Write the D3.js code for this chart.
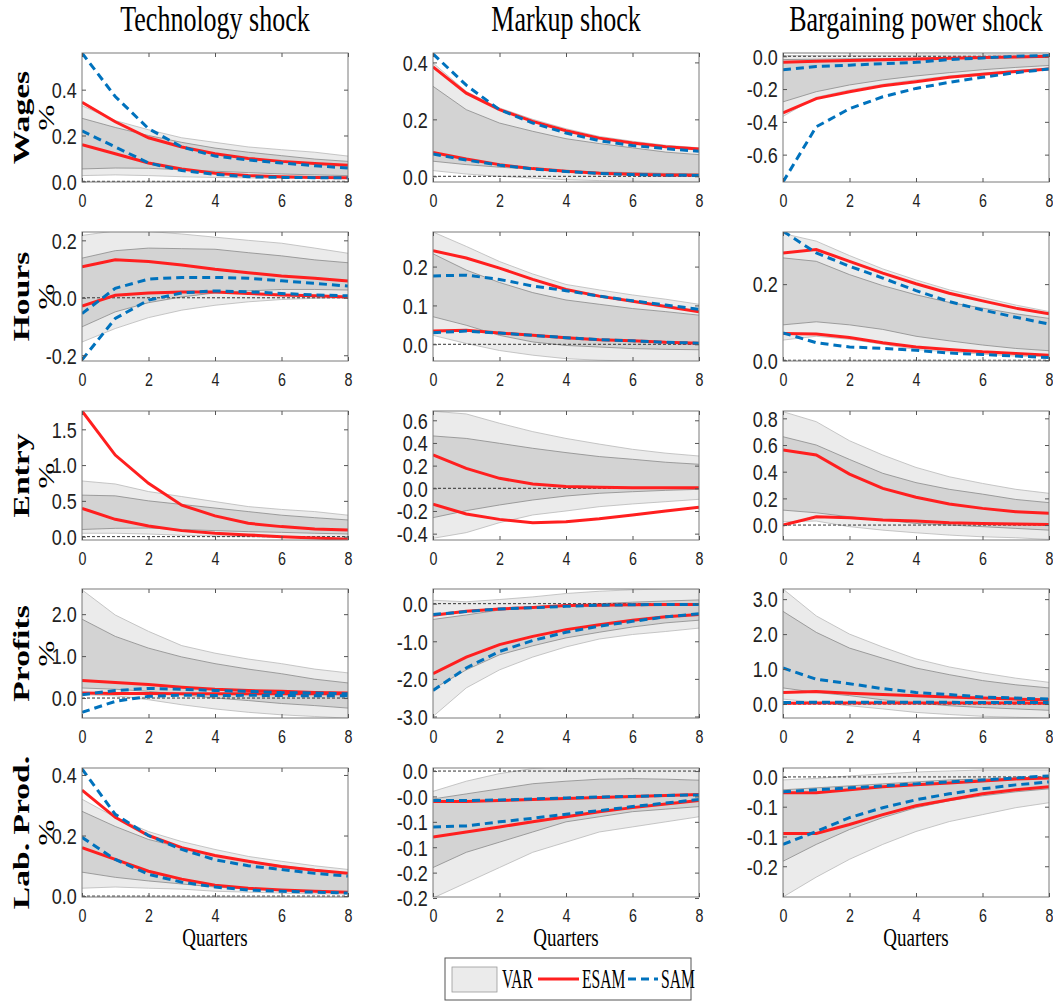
<!DOCTYPE html>
<html>
<head>
<meta charset="utf-8">
<script src="https://cdn.jsdelivr.net/npm/d3@7"></script>
<style>
  body { margin: 0; background: #fff; }
</style>
</head>
<body>
<div id="chart"></div>
<script>
// ---- data ----
const quarters = d3.range(0, 9);
const shocks = ['Technology shock', 'Markup shock', 'Bargaining power shock'];
const variables = ['Wages', 'Hours', 'Entry', 'Profits', 'Lab. Prod.'];
const legendLabels = ['VAR', 'ESAM', 'SAM'];
const xTicks = [0, 2, 4, 6, 8];

// VAR bands (outer / inner), ESAM and SAM responses (hi / lo) per panel
const wagesTech = {
  outerHi: [0.33, 0.265, 0.225, 0.19, 0.17, 0.15, 0.138, 0.127, 0.11],
  innerHi: [0.275, 0.235, 0.2, 0.17, 0.145, 0.127, 0.112, 0.097, 0.087],
  innerLo: [0.054, 0.058, 0.057, 0.05, 0.044, 0.038, 0.032, 0.028, 0.025],
  outerLo: [0.025, 0.028, 0.025, 0.02, 0.017, 0.015, 0.013, 0.013, 0.013],
  esamHi: [0.345, 0.26, 0.19, 0.15, 0.12, 0.1, 0.087, 0.078, 0.07],
  esamLo: [0.16, 0.12, 0.08, 0.054, 0.035, 0.025, 0.02, 0.017, 0.016],
  samHi: [0.56, 0.37, 0.23, 0.15, 0.11, 0.093, 0.08, 0.068, 0.058],
  samLo: [0.22, 0.15, 0.08, 0.047, 0.03, 0.02, 0.017, 0.016, 0.015]
};
const wagesMarkup = {
  outerHi: [0.398, 0.298, 0.24, 0.2, 0.167, 0.14, 0.123, 0.109, 0.1],
  innerHi: [0.316, 0.234, 0.187, 0.158, 0.132, 0.115, 0.1, 0.085, 0.076],
  innerLo: [0.053, 0.041, 0.032, 0.025, 0.02, 0.015, 0.013, 0.01, 0.009],
  outerLo: [0.02, 0.008, 0, -0.006, -0.012, -0.015, -0.017, -0.019, -0.02],
  esamHi: [0.384, 0.292, 0.234, 0.193, 0.16, 0.134, 0.117, 0.104, 0.096],
  esamLo: [0.084, 0.061, 0.041, 0.027, 0.018, 0.011, 0.007, 0.005, 0.004],
  samHi: [0.43, 0.32, 0.234, 0.187, 0.152, 0.125, 0.108, 0.097, 0.088],
  samLo: [0.078, 0.057, 0.039, 0.026, 0.017, 0.01, 0.006, 0.004, 0.003]
};
const wagesBargain = {
  outerHi: [0.004, 0.005, 0.006, 0.007, 0.008, 0.008, 0.009, 0.01, 0.01],
  innerHi: [-0.02, -0.018, -0.015, -0.013, -0.011, -0.009, -0.007, -0.006, -0.005],
  innerLo: [-0.278, -0.216, -0.175, -0.144, -0.12, -0.1, -0.082, -0.068, -0.056],
  outerLo: [-0.367, -0.25, -0.206, -0.171, -0.144, -0.12, -0.103, -0.087, -0.072],
  esamHi: [-0.037, -0.031, -0.025, -0.021, -0.016, -0.012, -0.008, -0.004, 0],
  esamLo: [-0.346, -0.258, -0.216, -0.18, -0.155, -0.128, -0.11, -0.093, -0.078],
  samHi: [-0.082, -0.062, -0.054, -0.045, -0.037, -0.02, -0.01, 0, 0.004],
  samLo: [-0.767, -0.43, -0.32, -0.247, -0.196, -0.159, -0.128, -0.1, -0.078]
};
const hoursTech = {
  outerHi: [0.217, 0.233, 0.231, 0.222, 0.211, 0.2, 0.19, 0.173, 0.155],
  innerHi: [0.138, 0.164, 0.173, 0.171, 0.169, 0.157, 0.146, 0.132, 0.122],
  innerLo: [-0.101, -0.049, -0.017, 0.003, 0.017, 0.024, 0.029, 0.029, 0.027],
  outerLo: [-0.154, -0.107, -0.069, -0.043, -0.026, -0.014, -0.006, -0.002, 0],
  esamHi: [0.108, 0.132, 0.126, 0.114, 0.099, 0.087, 0.076, 0.068, 0.058],
  esamLo: [-0.029, 0.009, 0.017, 0.02, 0.02, 0.015, 0.01, 0.007, 0.003],
  samHi: [-0.055, 0.033, 0.065, 0.071, 0.071, 0.068, 0.059, 0.05, 0.041],
  samLo: [-0.216, -0.072, -0.008, 0.017, 0.024, 0.021, 0.015, 0.01, 0.007]
};
const hoursMarkup = {
  outerHi: [0.289, 0.252, 0.213, 0.181, 0.154, 0.14, 0.127, 0.116, 0.103],
  innerHi: [0.233, 0.191, 0.159, 0.133, 0.114, 0.103, 0.092, 0.084, 0.075],
  innerLo: [0.071, 0.049, 0.023, 0.006, -0.003, -0.007, -0.011, -0.013, -0.014],
  outerLo: [0.023, 0.002, -0.016, -0.028, -0.037, -0.041, -0.043, -0.045, -0.045],
  esamHi: [0.241, 0.222, 0.196, 0.167, 0.141, 0.124, 0.111, 0.097, 0.084],
  esamLo: [0.034, 0.036, 0.029, 0.023, 0.017, 0.012, 0.009, 0.005, 0.003],
  samHi: [0.176, 0.178, 0.167, 0.15, 0.138, 0.124, 0.112, 0.101, 0.09],
  samLo: [0.03, 0.034, 0.029, 0.023, 0.017, 0.012, 0.009, 0.005, 0.003]
};
const hoursBargain = {
  outerHi: [0.333, 0.313, 0.275, 0.24, 0.211, 0.185, 0.165, 0.145, 0.128],
  innerHi: [0.269, 0.26, 0.225, 0.196, 0.172, 0.152, 0.137, 0.122, 0.11],
  innerLo: [0.093, 0.101, 0.093, 0.081, 0.063, 0.051, 0.04, 0.031, 0.025],
  outerLo: [0.053, 0.063, 0.055, 0.042, 0.028, 0.022, 0.016, 0.011, 0.009],
  esamHi: [0.282, 0.291, 0.26, 0.229, 0.201, 0.176, 0.156, 0.137, 0.122],
  esamLo: [0.07, 0.069, 0.06, 0.046, 0.035, 0.028, 0.022, 0.018, 0.013],
  samHi: [0.339, 0.282, 0.247, 0.216, 0.183, 0.154, 0.132, 0.113, 0.095],
  samLo: [0.072, 0.046, 0.035, 0.031, 0.026, 0.019, 0.015, 0.011, 0.007]
};
const entryTech = {
  outerHi: [0.778, 0.736, 0.63, 0.56, 0.49, 0.42, 0.38, 0.35, 0.3],
  innerHi: [0.58, 0.57, 0.5, 0.45, 0.4, 0.35, 0.3, 0.265, 0.233],
  innerLo: [0.1, 0.116, 0.12, 0.1, 0.084, 0.07, 0.06, 0.047, 0.037],
  outerLo: [0.047, 0.047, 0.037, 0.019, 0.01, 0, -0.01, -0.01, -0.01],
  esamHi: [1.756, 1.14, 0.745, 0.44, 0.29, 0.186, 0.14, 0.107, 0.093],
  esamLo: [0.396, 0.242, 0.149, 0.084, 0.047, 0.023, 0, -0.02, -0.037],
  samHi: null,
  samLo: null
};
const entryMarkup = {
  outerHi: [0.68, 0.656, 0.574, 0.5, 0.44, 0.39, 0.344, 0.31, 0.285],
  innerHi: [0.462, 0.44, 0.397, 0.353, 0.315, 0.28, 0.256, 0.23, 0.212],
  innerLo: [-0.259, -0.197, -0.147, -0.103, -0.068, -0.044, -0.03, -0.018, -0.009],
  outerLo: [-0.441, -0.391, -0.303, -0.235, -0.2, -0.162, -0.138, -0.118, -0.097],
  esamHi: [0.294, 0.176, 0.088, 0.038, 0.015, 0.009, 0.006, 0.006, 0.006],
  esamLo: [-0.141, -0.226, -0.274, -0.303, -0.294, -0.268, -0.235, -0.2, -0.168],
  samHi: null,
  samLo: null
};
const entryBargain = {
  outerHi: [0.85, 0.775, 0.632, 0.525, 0.432, 0.362, 0.312, 0.268, 0.238],
  innerHi: [0.662, 0.6, 0.492, 0.388, 0.318, 0.268, 0.232, 0.192, 0.168],
  innerLo: [0.112, 0.092, 0.062, 0.038, 0.012, 0, -0.012, -0.025, -0.038],
  outerLo: [0.025, 0.03, -0.012, -0.038, -0.058, -0.075, -0.088, -0.095, -0.108],
  esamHi: [0.562, 0.525, 0.382, 0.275, 0.208, 0.158, 0.125, 0.1, 0.088],
  esamLo: [0, 0.062, 0.055, 0.038, 0.03, 0.018, 0.012, 0.008, 0.005],
  samHi: null,
  samLo: null
};
const profitsTech = {
  outerHi: [2.58, 1.98, 1.59, 1.25, 1.07, 0.93, 0.82, 0.69, 0.6],
  innerHi: [1.88, 1.47, 1.19, 0.98, 0.82, 0.69, 0.58, 0.45, 0.36],
  innerLo: [0.24, 0.21, 0.16, 0.08, 0, -0.06, -0.13, -0.18, -0.24],
  outerLo: [0.08, 0.055, -0.04, -0.16, -0.26, -0.34, -0.4, -0.44, -0.48],
  esamHi: [0.42, 0.37, 0.32, 0.26, 0.21, 0.18, 0.16, 0.135, 0.12],
  esamLo: [0.12, 0.11, 0.11, 0.105, 0.1, 0.1, 0.1, 0.1, 0.1],
  samHi: [0.08, 0.18, 0.23, 0.21, 0.18, 0.16, 0.13, 0.12, 0.1],
  samLo: [-0.34, -0.08, 0.04, 0.07, 0.06, 0.065, 0.06, 0.055, 0.055]
};
const profitsMarkup = {
  outerHi: [0.09, 0.05, 0.11, 0.18, 0.27, 0.33, 0.37, 0.39, 0.39],
  innerHi: [-0.42, -0.3, -0.17, -0.1, -0.04, 0, 0.04, 0.07, 0.1],
  innerLo: [-2.27, -1.76, -1.36, -1.12, -0.91, -0.76, -0.62, -0.51, -0.44],
  outerLo: [-3.0, -2.24, -1.76, -1.42, -1.15, -0.94, -0.82, -0.74, -0.65],
  esamHi: [-0.31, -0.2, -0.14, -0.1, -0.05, -0.04, -0.03, -0.02, -0.02],
  esamLo: [-1.86, -1.42, -1.09, -0.87, -0.69, -0.56, -0.44, -0.35, -0.29],
  samHi: [-0.29, -0.21, -0.14, -0.11, -0.07, -0.04, -0.03, -0.02, -0.02],
  samLo: [-2.31, -1.71, -1.27, -0.98, -0.76, -0.6, -0.47, -0.35, -0.27]
};
const profitsBargain = {
  outerHi: [3.29, 2.52, 2.0, 1.63, 1.29, 1.06, 0.89, 0.74, 0.62],
  innerHi: [2.65, 2.05, 1.6, 1.31, 1.03, 0.84, 0.67, 0.55, 0.46],
  innerLo: [0.46, 0.33, 0.24, 0.12, 0.03, -0.05, -0.1, -0.14, -0.18],
  outerLo: [0.14, 0.05, -0.05, -0.14, -0.24, -0.3, -0.35, -0.38, -0.4],
  esamHi: [0.33, 0.36, 0.31, 0.27, 0.24, 0.2, 0.17, 0.14, 0.12],
  esamLo: [0.02, 0.03, 0.03, 0.03, 0.03, 0.03, 0.03, 0.03, 0.02],
  samHi: [1.03, 0.71, 0.58, 0.44, 0.33, 0.27, 0.2, 0.17, 0.14],
  samLo: [0.04, 0.05, 0.05, 0.05, 0.05, 0.05, 0.04, 0.04, 0.04]
};
const prodTech = {
  outerHi: [0.32, 0.26, 0.213, 0.18, 0.154, 0.131, 0.115, 0.1, 0.088],
  innerHi: [0.28, 0.23, 0.187, 0.16, 0.134, 0.115, 0.1, 0.088, 0.075],
  innerLo: [0.079, 0.062, 0.05, 0.04, 0.03, 0.023, 0.02, 0.016, 0.013],
  outerLo: [0.026, 0.03, 0.026, 0.023, 0.016, 0.013, 0.01, 0.007, 0.007],
  esamHi: [0.35, 0.26, 0.2, 0.16, 0.134, 0.115, 0.098, 0.085, 0.075],
  esamLo: [0.16, 0.121, 0.082, 0.056, 0.036, 0.026, 0.02, 0.016, 0.013],
  samHi: [0.42, 0.27, 0.2, 0.154, 0.12, 0.1, 0.088, 0.075, 0.066],
  samLo: [0.194, 0.121, 0.072, 0.046, 0.03, 0.02, 0.016, 0.013, 0.01]
};
const prodMarkup = {
  outerHi: [-0.04, -0.02, -0.005, 0.005, 0.01, 0.012, 0.012, 0.01, 0.008],
  innerHi: [-0.055, -0.045, -0.035, -0.025, -0.02, -0.016, -0.015, -0.016, -0.018],
  innerLo: [-0.19, -0.16, -0.14, -0.12, -0.1, -0.09, -0.08, -0.075, -0.07],
  outerLo: [-0.25, -0.22, -0.19, -0.16, -0.14, -0.12, -0.11, -0.1, -0.09],
  esamHi: [-0.06, -0.06, -0.058, -0.056, -0.054, -0.052, -0.05, -0.048, -0.046],
  esamLo: [-0.13, -0.12, -0.11, -0.1, -0.09, -0.08, -0.072, -0.065, -0.058],
  samHi: [-0.058, -0.058, -0.057, -0.055, -0.053, -0.051, -0.05, -0.048, -0.047],
  samLo: [-0.11, -0.108, -0.1, -0.093, -0.085, -0.078, -0.07, -0.063, -0.056]
};
const prodBargain = {
  outerHi: [-0.006, -0.003, 0.002, 0.006, 0.01, 0.012, 0.014, 0.014, 0.014],
  innerHi: [-0.026, -0.022, -0.018, -0.014, -0.01, -0.006, -0.004, -0.002, 0],
  innerLo: [-0.17, -0.136, -0.106, -0.082, -0.062, -0.048, -0.038, -0.03, -0.024],
  outerLo: [-0.242, -0.202, -0.166, -0.136, -0.11, -0.09, -0.076, -0.062, -0.052],
  esamHi: [-0.032, -0.032, -0.026, -0.02, -0.016, -0.012, -0.008, -0.004, -0.002],
  esamLo: [-0.114, -0.114, -0.096, -0.076, -0.058, -0.046, -0.034, -0.026, -0.02],
  samHi: [-0.03, -0.026, -0.022, -0.018, -0.014, -0.01, -0.006, -0.002, 0.002],
  samLo: [-0.136, -0.11, -0.082, -0.062, -0.046, -0.034, -0.024, -0.016, -0.01]
};

const panels = [
  [wagesTech, wagesMarkup, wagesBargain],
  [hoursTech, hoursMarkup, hoursBargain],
  [entryTech, entryMarkup, entryBargain],
  [profitsTech, profitsMarkup, profitsBargain],
  [prodTech, prodMarkup, prodBargain]
];

// y-axis extents, tick values and tick labels (row by row)
const yDomains = [
  [[-0.003, 0.56], [-0.02, 0.433], [-0.767, 0.02]],
  [[-0.22, 0.229], [-0.043, 0.289], [-0.002, 0.337]],
  [[-0.047, 1.756], [-0.456, 0.682], [-0.112, 0.855]],
  [[-0.476, 2.6], [-3.04, 0.39], [-0.4, 3.29]],
  [[-0.003, 0.423], [-0.248, 0.006], [-0.242, 0.018]]
];
const yTicks = [
  [[0, 0.2, 0.4], [0, 0.2, 0.4], [-0.6, -0.4, -0.2, 0]],
  [[-0.2, 0, 0.2], [0, 0.1, 0.2], [0, 0.2]],
  [[0, 0.5, 1, 1.5], [-0.4, -0.2, 0, 0.2, 0.4, 0.6], [0, 0.2, 0.4, 0.6, 0.8]],
  [[0, 1, 2], [-3, -2, -1, 0], [0, 1, 2, 3]],
  [[0, 0.2, 0.4], [-0.25, -0.2, -0.15, -0.1, -0.05, 0], [-0.18, -0.12, -0.06, 0]]
];
const yTickLabels = [
  [['0.0', '0.2', '0.4'], ['0.0', '0.2', '0.4'], ['-0.6', '-0.4', '-0.2', '0.0']],
  [['-0.2', '0.0', '0.2'], ['0.0', '0.1', '0.2'], ['0.0', '0.2']],
  [['0.0', '0.5', '1.0', '1.5'], ['-0.4', '-0.2', '0.0', '0.2', '0.4', '0.6'], ['0.0', '0.2', '0.4', '0.6', '0.8']],
  [['0.0', '1.0', '2.0'], ['-3.0', '-2.0', '-1.0', '0.0'], ['0.0', '1.0', '2.0', '3.0']],
  [['0.0', '0.2', '0.4'], ['-0.2', '-0.2', '-0.1', '-0.1', '-0.0', '0.0'], ['-0.2', '-0.1', '-0.1', '0.0']]
];

// ---- layout ----
const dimensions = { width: 1053, height: 1001, plotW: 266, plotH: 129 };
const colLeft = [82, 433, 783];
const rowTop = [53, 232, 411, 589, 768];

const colors = {
  outer: '#ebebeb', outerEdge: '#b9b9b9',
  inner: '#d3d3d3', innerEdge: '#8a8a8a',
  esam: '#ff1f1f', sam: '#0072bd'
};

const svg = d3.select('#chart')
  .append('svg')
  .attr('width', dimensions.width)
  .attr('height', dimensions.height)
  .style('font-family', "'Liberation Serif', serif");

const x = d3.scaleLinear().domain([0, 8]).range([0, dimensions.plotW]);

function styleTicks(axisG) {
  axisG.select('.domain').remove();
  axisG.selectAll('line').attr('stroke', '#555');
  axisG.selectAll('text')
    .attr('fill', '#222')
    .style('font-family', "'Liberation Sans', Arial, sans-serif");
}

panels.forEach((row, r) => {
  row.forEach((p, c) => {
    const y = d3.scaleLinear().domain(yDomains[r][c]).range([dimensions.plotH, 0]);
    const g = svg.append('g')
      .attr('transform', `translate(${colLeft[c]}, ${rowTop[r]})`);

    const clipId = `clip-${r}-${c}`;
    g.append('clipPath').attr('id', clipId)
      .append('rect').attr('width', dimensions.plotW).attr('height', dimensions.plotH);

    const body = g.append('g').attr('clip-path', `url(#${clipId})`);

    const band = (lo, hi) => d3.area()
      .x(i => x(i)).y0(i => y(lo[i])).y1(i => y(hi[i]))(quarters);
    const line = vals => d3.line().x(i => x(i)).y(i => y(vals[i]))(quarters);

    // VAR bands
    body.append('path').attr('d', band(p.outerLo, p.outerHi)).attr('fill', colors.outer);
    body.append('path').attr('d', band(p.innerLo, p.innerHi)).attr('fill', colors.inner);
    [p.outerLo, p.outerHi].forEach(v => body.append('path').attr('d', line(v))
      .attr('fill', 'none').attr('stroke', colors.outerEdge).attr('stroke-width', 0.8));
    [p.innerLo, p.innerHi].forEach(v => body.append('path').attr('d', line(v))
      .attr('fill', 'none').attr('stroke', colors.innerEdge).attr('stroke-width', 0.8));

    // zero line
    body.append('line')
      .attr('x1', 0).attr('x2', dimensions.plotW)
      .attr('y1', y(0)).attr('y2', y(0))
      .attr('stroke', '#333').attr('stroke-width', 1).attr('stroke-dasharray', '3,2');

    // model responses
    [p.esamHi, p.esamLo].forEach(v => body.append('path').attr('d', line(v))
      .attr('fill', 'none').attr('stroke', colors.esam).attr('stroke-width', 3));
    if (p.samHi) {
      [p.samHi, p.samLo].forEach(v => body.append('path').attr('d', line(v))
        .attr('fill', 'none').attr('stroke', colors.sam).attr('stroke-width', 3)
        .attr('stroke-dasharray', '8,5'));
    }

    // frame
    g.append('rect')
      .attr('width', dimensions.plotW).attr('height', dimensions.plotH)
      .attr('fill', 'none').attr('stroke', '#7a7a7a').attr('stroke-width', 1);

    // axes (ticks drawn inward on all four sides)
    const labels = yTickLabels[r][c];
    const left = g.append('g')
      .call(d3.axisLeft(y).tickValues(yTicks[r][c]).tickSize(-4)
        .tickFormat((d, i) => labels[i]));
    styleTicks(left);
    left.selectAll('text')
      .attr('x', -5).attr('y', 6).attr('dy', null)
      .style('font-size', '17px')
      .attr('transform', 'scale(1.06,1.3)');

    const right = g.append('g').attr('transform', `translate(${dimensions.plotW},0)`)
      .call(d3.axisRight(y).tickValues(yTicks[r][c]).tickSize(-4).tickFormat(''));
    styleTicks(right);

    const bottom = g.append('g').attr('transform', `translate(0,${dimensions.plotH})`)
      .call(d3.axisBottom(x).tickValues(xTicks).tickSize(-4).tickFormat(d3.format('d')));
    styleTicks(bottom);
    bottom.selectAll('text')
      .attr('y', 19).attr('dy', null)
      .style('font-size', '14px')
      .attr('transform', 'scale(1.02,1.3)');

    const top = g.append('g')
      .call(d3.axisTop(x).tickValues(xTicks).tickSize(-4).tickFormat(''));
    styleTicks(top);
  });
});

// column titles
shocks.forEach((s, c) => {
  svg.append('text')
    .attr('transform', `translate(${colLeft[c] + dimensions.plotW / 2}, 31) scale(1,1.35)`)
    .attr('text-anchor', 'middle')
    .style('font-size', '26px')
    .attr('fill', '#000')
    .text(s);
});

// row labels
variables.forEach((v, r) => {
  const cy = rowTop[r] + dimensions.plotH / 2;
  svg.append('text')
    .attr('transform', `translate(29, ${cy}) rotate(-90) scale(1.4,1)`)
    .attr('text-anchor', 'middle')
    .style('font-size', '24px').style('font-weight', 'bold')
    .text(v);
  svg.append('text')
    .attr('transform', `translate(54, ${cy}) rotate(-90) scale(1.35,1)`)
    .attr('text-anchor', 'middle')
    .style('font-size', '23px')
    .text('%');
});

// x-axis titles
shocks.forEach((s, c) => {
  svg.append('text')
    .attr('transform', `translate(${colLeft[c] + dimensions.plotW / 2}, 946) scale(1,1.35)`)
    .attr('text-anchor', 'middle')
    .style('font-size', '19px')
    .text('Quarters');
});

// legend
const legend = svg.append('g').attr('transform', 'translate(445, 958)');
legend.append('rect').attr('width', 246).attr('height', 42)
  .attr('fill', '#fff').attr('stroke', '#555').attr('stroke-width', 1);
legend.append('rect').attr('x', 7).attr('y', 9).attr('width', 45).attr('height', 25)
  .attr('fill', colors.outer).attr('stroke', '#999').attr('stroke-width', 0.8);
legend.append('line').attr('x1', 93).attr('x2', 134).attr('y1', 21).attr('y2', 21)
  .attr('stroke', colors.esam).attr('stroke-width', 3);
legend.append('line').attr('x1', 183).attr('x2', 213).attr('y1', 21).attr('y2', 21)
  .attr('stroke', colors.sam).attr('stroke-width', 3).attr('stroke-dasharray', '8,5');
const legendX = [57, 137, 216];
legendLabels.forEach((t, i) => {
  legend.append('text')
    .attr('transform', `translate(${legendX[i]}, 30) scale(0.78,1.35)`)
    .style('font-size', '20px')
    .text(t);
});
</script>
</body>
</html>
